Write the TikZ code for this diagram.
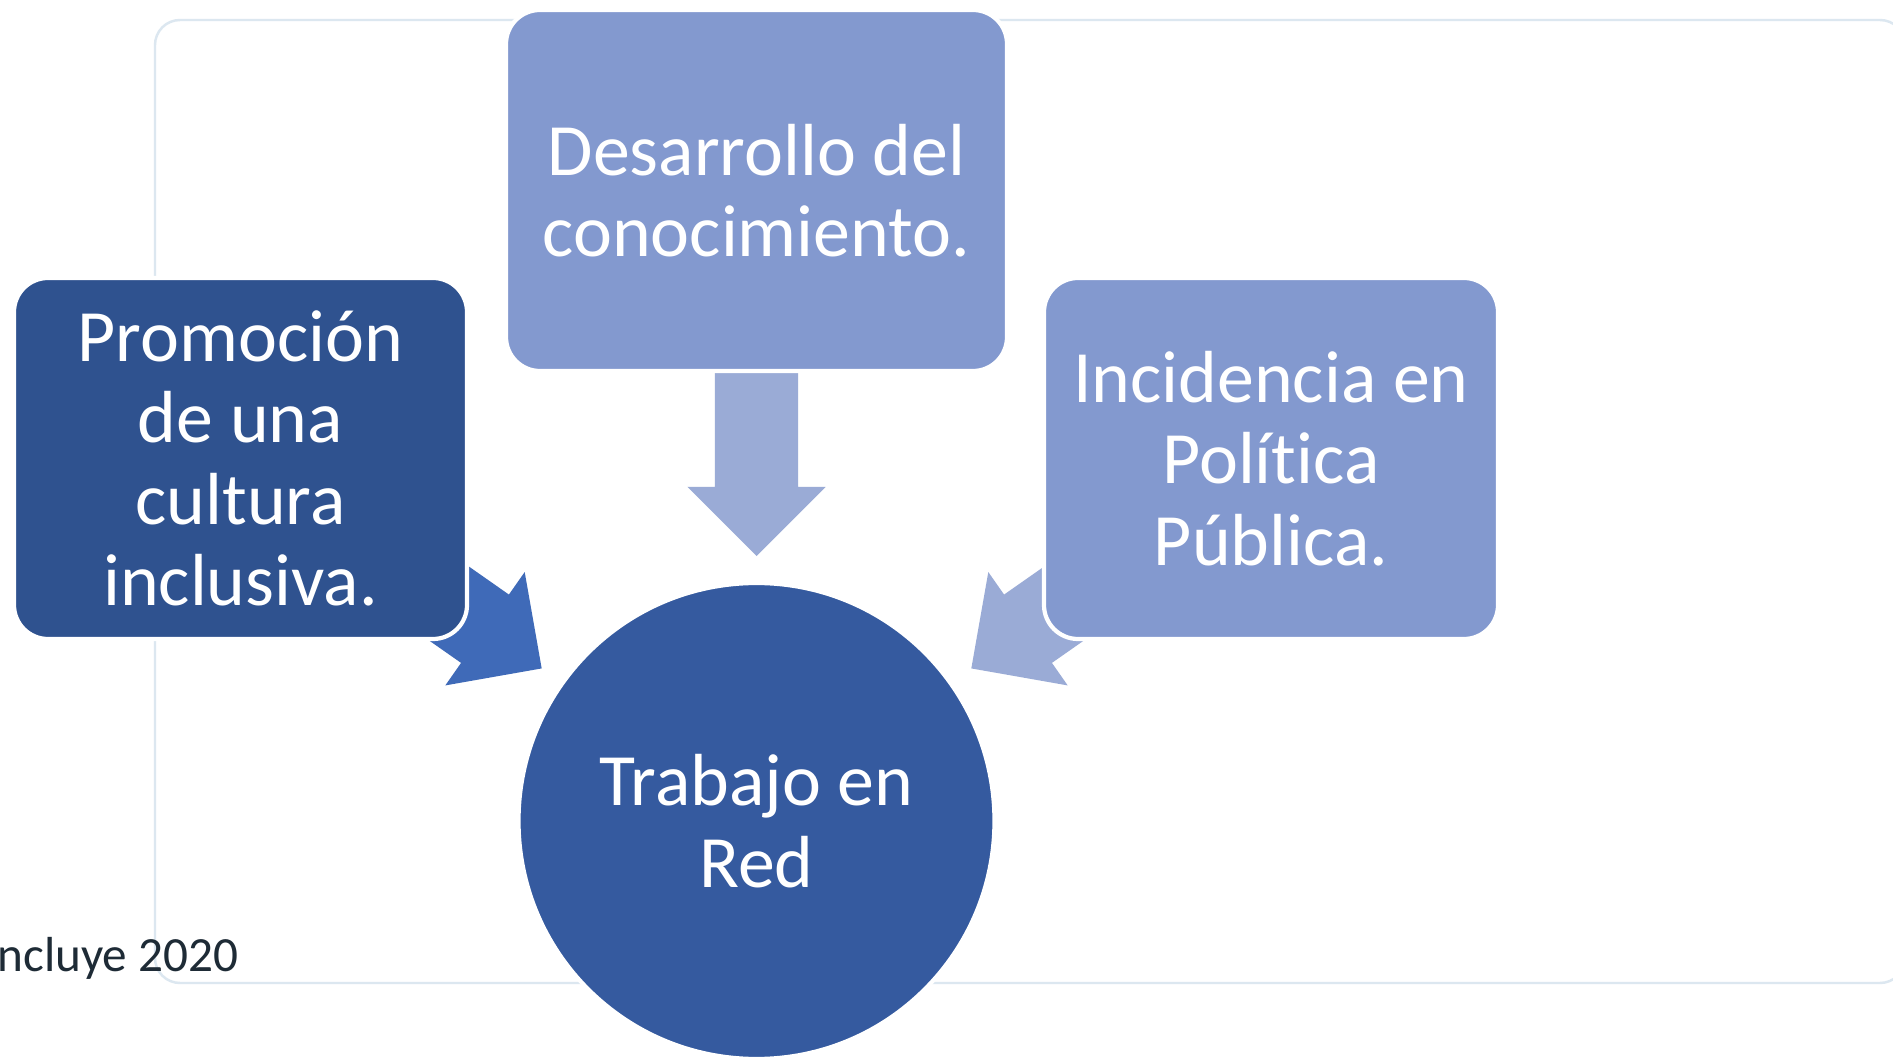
\documentclass[tikz,border=0pt]{standalone}
\usepackage{fontspec}
\setmainfont{Carlito}[Ligatures=NoCommon]
\usetikzlibrary{shapes.arrows}

\definecolor{azulclaro}{RGB}{131,153,207}
\definecolor{azuloscuro}{RGB}{47,82,143}
\definecolor{azulred}{RGB}{53,90,159}
\definecolor{flechaosc}{RGB}{63,106,184}
\definecolor{flechacla}{RGB}{154,171,214}
\definecolor{marco}{RGB}{220,231,240}
\definecolor{textonota}{RGB}{30,43,54}

\tikzset{
  caja/.style={rectangle, rounded corners=0.34cm, draw=white, line width=1.2pt,
    text=white, align=center, inner sep=0pt,
    font=\fontsize{21}{23.2}\selectfont},
  flecha/.style={single arrow, draw=none, inner xsep=0pt, inner ysep=0.41cm,
    single arrow head extend=0.275cm, single arrow tip angle=90,
    minimum height=#1, anchor=tip}
}

\begin{document}
\begin{tikzpicture}
  \clip (0,0) rectangle (18.93,10.56);
  \fill[white] (0,0) rectangle (18.93,10.56);

  % marco de fondo
  \draw[marco, line width=0.7pt, rounded corners=0.25cm] (1.55,0.73) rectangle (19.05,10.36);
  \node[anchor=base east, text=textonota, inner sep=0pt,
    font=\fontsize{14}{16}\selectfont] (nota) at (2.39,0.85) {ncluye 2020};

  % flechas (puntas hacia el centro)
  \node[flecha=1.83cm, fill=flechacla, rotate=-90] (f1) at (7.565,4.99) {};
  \node[flecha=1.50cm, fill=flechaosc, rotate=-35] (f2) at (5.425,3.87) {};
  \node[flecha=1.50cm, fill=flechacla, rotate=-145] (f3) at (9.705,3.87) {};

  % cajas
  \node[caja, fill=azulclaro, minimum width=5.01cm, minimum height=3.61cm]
    (desarrollo) at (7.565,8.655) {Desarrollo del\\conocimiento.};
  \node[caja, fill=azuloscuro, minimum width=4.53cm, minimum height=3.61cm]
    (promocion) at (2.405,5.975) {Promoción\\de una\\cultura\\inclusiva.};
  \node[caja, fill=azulclaro, minimum width=4.54cm, minimum height=3.61cm]
    (incidencia) at (12.71,5.975) {Incidencia en\\Política\\Pública.};

  % centro
  \node[circle, fill=azulred, draw=white, line width=1.2pt, text=white,
    align=center, inner sep=0pt, minimum size=4.76cm,
    font=\fontsize{21}{23.2}\selectfont] (red) at (7.565,2.35) {Trabajo en\\Red};
\end{tikzpicture}
\end{document}
